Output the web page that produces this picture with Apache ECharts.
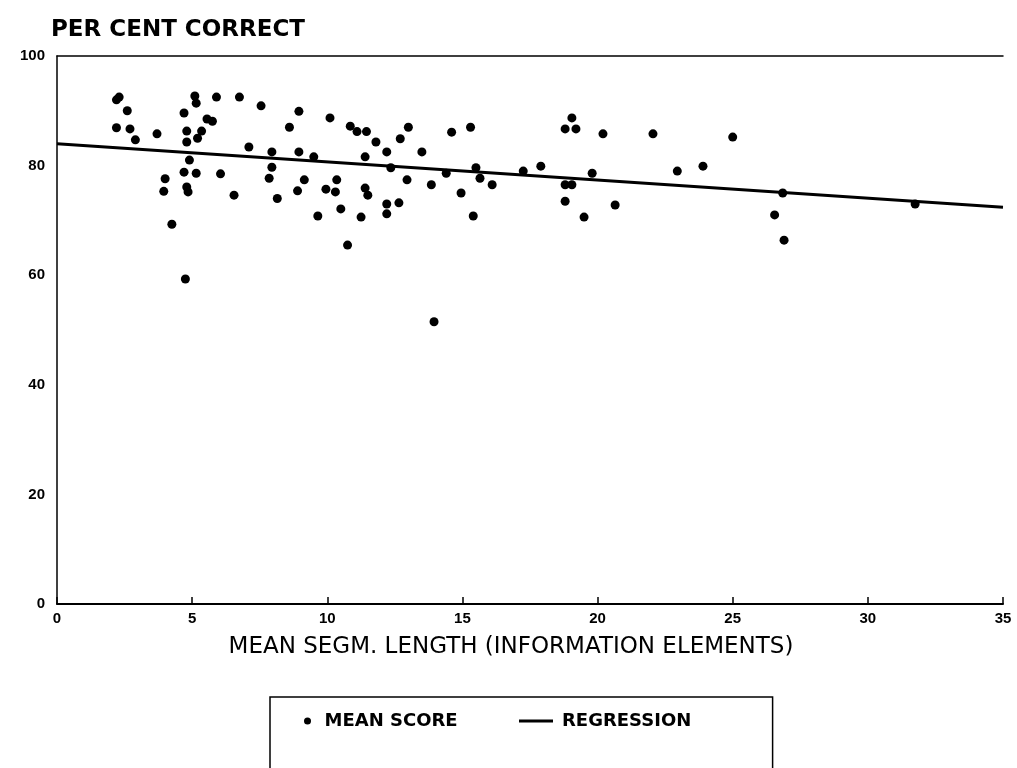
<!DOCTYPE html>
<html>
<head>
<meta charset="utf-8">
<script src="https://cdn.jsdelivr.net/npm/echarts@6/dist/echarts.min.js"></script>
<style>
  html, body { margin: 0; padding: 0; background: #fff; }
  #main { width: 1017px; height: 768px; }
</style>
</head>
<body>
<div id="main"></div>
<script>
// mean segment length (x) and mean score (y) per point
const segLength = [
  2.2, 2.3, 2.6, 2.2, 2.7, 2.9, 3.7, 5.1, 5.15, 5.9, 6.75, 7.55, 4.7, 5.55, 5.75,
  4.8, 5.35, 4.8, 5.2, 4.9, 7.1, 7.95, 8.6, 8.95, 8.95, 4.0, 4.7, 5.15, 6.05, 3.95,
  4.8, 4.85, 7.95, 7.85, 6.55, 8.15, 8.9, 4.25, 4.75, 10.1, 10.85, 11.1, 11.45, 11.8,
  13.0, 12.7, 14.6, 15.3, 9.5, 11.4, 12.2, 13.5, 12.35, 14.4, 15.5, 9.15, 10.35, 9.95,
  10.3, 11.4, 11.5, 12.95, 13.85, 14.95, 10.5, 12.2, 12.65, 12.2, 9.65, 11.25, 15.4,
  10.75, 13.95, 19.05, 18.8, 19.2, 20.2, 22.05, 15.65, 17.25, 17.9, 16.1, 19.8, 18.8,
  19.05, 18.8, 20.65, 19.5, 22.95, 23.9, 25.0, 26.85, 26.55, 26.9, 31.75
];
const meanScore = [
  92.0, 92.5, 90.0, 86.9, 86.7, 84.7, 85.8, 92.7, 91.4, 92.5, 92.5, 90.9, 89.6, 88.5, 88.1,
  86.3, 86.3, 84.3, 85.0, 81.0, 83.4, 82.5, 87.0, 89.9, 82.5, 77.6, 78.8, 78.6, 78.5, 75.3,
  76.1, 75.2, 79.7, 77.7, 74.6, 74.0, 75.4, 69.3, 59.3, 88.7, 87.2, 86.2, 86.2, 84.3,
  87.0, 84.9, 86.1, 87.0, 81.6, 81.6, 82.5, 82.5, 79.6, 78.6, 79.6, 77.4, 77.4, 75.7,
  75.2, 75.9, 74.6, 77.4, 76.5, 75.0, 72.1, 73.0, 73.2, 71.2, 70.8, 70.6, 70.8,
  65.5, 51.5, 88.7, 86.7, 86.7, 85.8, 85.8, 77.7, 79.0, 79.9, 76.5, 78.6, 76.5,
  76.5, 73.5, 72.8, 70.6, 79.0, 79.9, 85.2, 75.0, 71.0, 66.4, 73.0
];
// regression line end points
const regressionX = [0, 35];
const regressionY = [84.0, 72.4];

const scoreData = segLength.map((x, i) => [x, meanScore[i]]);
const regData = regressionX.map((x, i) => [x, regressionY[i]]);

const FONT = "'Liberation Sans', Arial, sans-serif";
const WIDE = "'DejaVu Sans', sans-serif";
const legendText = { fontFamily: WIDE, fontSize: 18, fontWeight: "bold", color: "#000" };

let myChart = echarts.init(document.getElementById("main"));
let option = {
  animation: false,
  backgroundColor: "#fff",
  title: {
    text: "PER CENT CORRECT",
    left: 51,
    top: 19,
    padding: 0,
    textStyle: { fontFamily: WIDE, fontSize: 23, fontWeight: "bold", color: "#000" },
  },
  grid: { left: 57, right: 14, top: 56, bottom: 164 },
  // two legends: the first one also draws the framed box
  legend: [
    {
      left: 270,
      top: 697,
      padding: [15, 315, 45, 34],
      borderColor: "#000",
      borderWidth: 1.5,
      itemWidth: 24,
      itemHeight: 7,
      itemStyle: { borderWidth: 0 },
      textStyle: legendText,
      data: [{ name: "MEAN SCORE", icon: "circle" }],
    },
    {
      left: 519,
      top: 712,
      padding: 0,
      itemWidth: 34,
      itemHeight: 7,
      itemStyle: { borderWidth: 0 },
      textStyle: Object.assign({ padding: [0, 0, 0, 4] }, legendText),
      data: [{ name: "REGRESSION", icon: "path://M0,0H36V3H0Z" }],
    },
  ],
  xAxis: [
    {
      type: "value",
      min: 0,
      max: 35,
      interval: 5,
      name: "MEAN SEGM. LENGTH (INFORMATION ELEMENTS)",
      nameLocation: "middle",
      nameGap: 32,
      nameTextStyle: { fontFamily: WIDE, fontSize: 23, color: "#000", padding: [0, 38, 0, 0] },
      axisLine: { lineStyle: { color: "#000", width: 2 } },
      axisTick: { show: true, inside: true, length: 7, lineStyle: { color: "#000", width: 1.5 } },
      axisLabel: { fontFamily: FONT, fontSize: 15, fontWeight: "bold", color: "#000", margin: 7 },
      splitLine: { show: false },
    },
    {
      type: "value",
      position: "top",
      min: 0,
      max: 35,
      axisLine: { show: true, lineStyle: { color: "#000", width: 1.5 } },
      axisTick: { show: false },
      axisLabel: { show: false },
      splitLine: { show: false },
    },
  ],
  yAxis: {
    type: "value",
    min: 0,
    max: 100,
    interval: 20,
    axisLine: { show: true, lineStyle: { color: "#000", width: 1.5 } },
    axisTick: { show: false },
    axisLabel: { fontFamily: FONT, fontSize: 15, fontWeight: "bold", color: "#000", margin: 12 },
    splitLine: { show: false },
  },
  series: [
    {
      name: "MEAN SCORE",
      type: "scatter",
      symbol: "circle",
      symbolSize: 9,
      itemStyle: { color: "#000", opacity: 1 },
      data: scoreData,
    },
    {
      name: "REGRESSION",
      type: "line",
      symbol: "none",
      lineStyle: { color: "#000", width: 3 },
      itemStyle: { color: "#000" },
      data: regData,
    },
  ],
};

option && myChart.setOption(option);
</script>
</body>
</html>
